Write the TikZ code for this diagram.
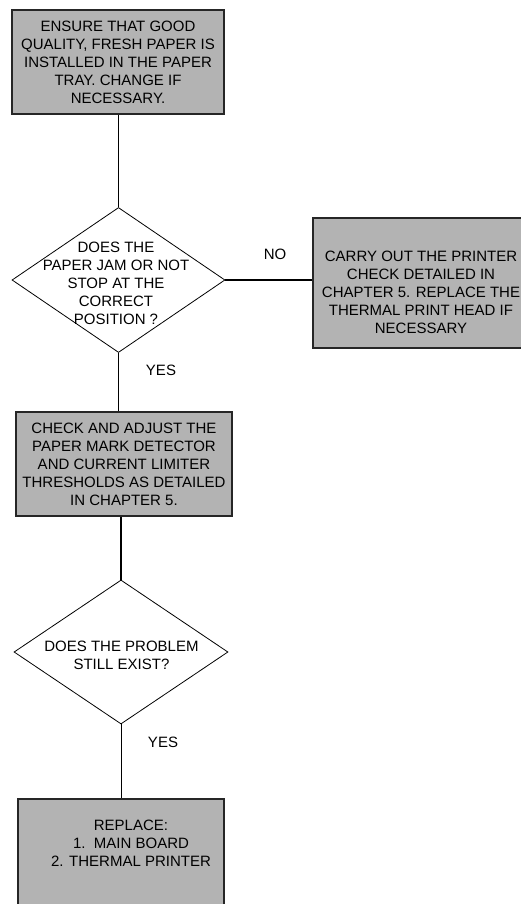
\documentclass[tikz,border=0pt]{standalone}
\usepackage{fontspec}
\setmainfont{Liberation Sans}
\usepackage{tikz}
\usetikzlibrary{positioning,shapes.geometric}
\definecolor{relleno}{RGB}{179,179,179}
\definecolor{borde}{RGB}{38,38,38}

\begin{document}
\begin{tikzpicture}[x=1pt, y=-1pt,
  caja/.style={draw=borde, fill=relleno, line width=1.3pt, inner sep=0pt,
    align=center, font=\fontsize{15}{18}\selectfont},
  rombo/.style={draw=black, diamond, line width=0.8pt, inner sep=0pt},
  texto/.style={align=center, inner sep=0pt, font=\fontsize{15}{18}\selectfont},
  linea/.style={draw=black, line width=#1},
  linea/.default=1pt
]
\useasboundingbox (0,0) rectangle (520,904);
\node[caja, minimum width=212pt, minimum height=104pt] (papel) at (118,62)
  {ENSURE THAT GOOD\\ QUALITY, FRESH PAPER IS\\ INSTALLED IN THE PAPER\\
   TRAY. CHANGE IF\\ NECESSARY.};
\node[rombo, minimum width=213pt, minimum height=145pt] (atasco) at (118.5,280) {};
\node[texto] (txtatasco) at (116,283)
  {DOES THE\\ PAPER JAM OR NOT\\ STOP AT THE\\ CORRECT\\ POSITION ?};
\node[caja, minimum width=213pt, minimum height=130pt] (revision) at (419.5,283) {};
\node[texto] (txtrevision) at (421,292)
  {CARRY OUT THE PRINTER\\ CHECK DETAILED IN\\ CHAPTER 5. REPLACE THE\\
   THERMAL PRINT HEAD IF\\ NECESSARY};
\node[caja, minimum width=216pt, minimum height=104pt] (ajuste) at (124,464)
  {CHECK AND ADJUST THE\\ PAPER MARK DETECTOR\\ AND CURRENT LIMITER\\
   THRESHOLDS AS DETAILED\\ IN CHAPTER 5.};
\node[rombo, minimum width=214pt, minimum height=144pt] (persiste) at (121,652) {};
\node[texto] (txtpersiste) at (121.5,655) {DOES THE PROBLEM\\ STILL EXIST?};
\node[caja, minimum width=206pt, minimum height=120pt] (reemplazo) at (121,859) {};
\node[texto] (txtreemplazo) at (131,843)
  {REPLACE:\\ 1.~~MAIN BOARD\\ 2. THERMAL PRINTER};
% conectores
\draw[linea=0.8pt] (papel.south -| atasco.north) -- (atasco.north);
\draw[linea=1.3pt] (atasco.east) -- (atasco.east -| revision.west);
\draw[linea=1.8pt] (atasco.south) -- (atasco.south |- ajuste.north);
\draw[linea=1.8pt] (ajuste.south -| persiste.north) -- (persiste.north);
\draw[linea=0.8pt] (persiste.south) -- (persiste.south |- reemplazo.north);
% rotulos
\node[texto] (no) at (275,254) {NO};
\node[texto] (si1) at (161,370) {YES};
\node[texto] (si2) at (163,742) {YES};
\end{tikzpicture}
\end{document}
